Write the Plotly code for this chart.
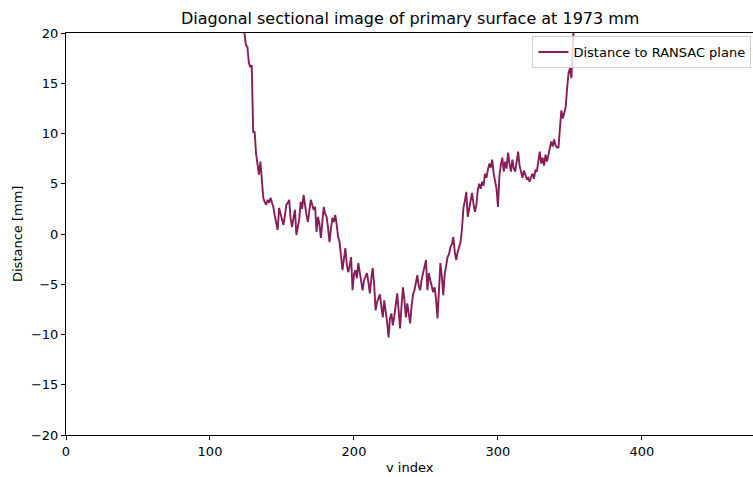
import plotly.graph_objects as go

v_start = 123
distance_mm = [
    21.0, 20.0, 18.8, 18.6, 17.0, 16.6, 16.8, 10.1, 10.2, 8.0,
    6.9, 5.9, 7.2, 5.5, 3.6, 3.2, 2.9, 3.4, 3.1, 3.6,
    3.2, 2.7, 1.8, 1.2, 0.4, 2.6, 2.0, 1.7, 0.9, 1.8,
    2.9, 3.1, 3.4, 1.5, 0.7, 1.6, 2.4, -0.1, 0.6, 1.5,
    3.2, 2.5, 3.9, 2.8, 1.9, 1.2, 2.2, 3.4, 2.9, 2.4,
    2.7, 0.2, 1.7, 1.0, -0.4, 1.2, 2.7, 2.0, 1.7, 0.6,
    -0.8, 0.5, 1.6, 1.2, 1.9, 0.9, -0.3, -0.8, -2.0, -3.6,
    -2.5, -1.4, -3.0, -3.8, -3.2, -2.3, -5.6, -4.0, -3.6, -4.4,
    -2.9, -3.8, -4.5, -5.6, -4.6, -4.2, -3.9, -4.8, -5.9, -4.5,
    -3.4, -5.0, -7.6, -6.8, -6.3, -6.0, -7.2, -8.3, -6.6, -7.5,
    -8.8, -10.3, -8.4, -7.9, -9.1, -8.2, -7.0, -5.9, -7.6, -9.4,
    -7.2, -5.3, -6.5, -8.3, -6.9, -7.8, -8.9, -7.2, -6.0, -5.6,
    -5.0, -4.1, -5.2, -5.6, -4.5, -3.8, -3.1, -2.6, -5.6, -3.9,
    -4.6, -5.2, -5.8, -5.3, -6.5, -8.4, -5.0, -2.9, -4.2, -6.1,
    -4.0, -3.0, -2.3, -2.0, -1.3, -1.0, -0.3, -1.8, -2.6, -1.8,
    -1.3, -0.8, 0.5, 2.6, 3.3, 4.2, 1.7, 2.5, 3.2, 4.1,
    3.0, 2.2, 2.9, 4.4, 5.0, 4.5, 5.2, 4.8, 6.0, 5.6,
    6.4, 7.0, 6.6, 7.4, 6.0, 5.2, 4.5, 2.7, 5.8, 6.9,
    7.6, 6.2, 7.2, 6.5, 8.1, 7.0, 6.2, 7.4, 6.5, 6.2,
    7.0, 8.2, 6.8, 6.0, 5.6, 6.3, 5.8, 5.5, 5.6, 5.2,
    5.7, 6.0, 5.5, 6.4, 6.2, 7.3, 8.2, 7.0, 7.6, 6.8,
    7.9, 7.2, 8.0, 8.6, 9.2, 8.7, 9.4, 8.8, 8.6, 8.6,
    10.8, 12.3, 11.5, 12.0, 12.6, 14.5, 16.0, 16.5, 15.5, 19.0,
    21.5,
]
v_index = list(range(v_start, v_start + len(distance_mm)))

x_ticks = [0, 100, 200, 300, 400]
y_ticks = [-20, -15, -10, -5, 0, 5, 10, 15, 20]

title_text = "Diagonal sectional image of primary surface at 1973 mm"
series_name = "Distance to RANSAC plane"
line_color = "#861e5a"
font_family = "DejaVu Sans"

fig = go.Figure()
fig.add_trace(go.Scatter(
    x=v_index, y=distance_mm, mode="lines", name=series_name,
    line=dict(color=line_color, width=1.9),
))

W, H = 753, 477
ml, mt, mb, mr = 66, 33, 42, 0

fig.update_layout(
    width=W, height=H,
    margin=dict(l=ml, r=mr, t=mt, b=mb, autoexpand=False),
    paper_bgcolor="white", plot_bgcolor="white",
    font=dict(family=font_family, size=13, color="black"),
    showlegend=True,
    legend=dict(
        x=0.679, y=0.9925, xanchor="left", yanchor="top",
        bgcolor="rgba(255,255,255,0.8)", bordercolor="#d0d0d0", borderwidth=1,
        font=dict(family=font_family, size=13, color="black"),
        itemwidth=30, tracegroupgap=0,
    ),
    xaxis=dict(
        range=[0, 477.8 * 687 / 688], tickvals=x_ticks, ticks="outside", ticklen=4,
        tickcolor="black", showgrid=False, zeroline=False,
        showline=True, linecolor="black", linewidth=1, mirror=True,
        tickfont=dict(size=13),
    ),
    yaxis=dict(
        range=[-20, 20], tickvals=y_ticks, ticks="outside", ticklen=4,
        tickcolor="black", showgrid=False, zeroline=False,
        showline=True, linecolor="black", linewidth=1, mirror=False,
        tickfont=dict(size=13),
    ),
    annotations=[
        dict(text=title_text, xref="paper", yref="paper", x=0.5, y=1,
             yshift=15, showarrow=False, xanchor="center", yanchor="middle",
             font=dict(size=16, family=font_family)),
        dict(text="v index", xref="paper", yref="paper", x=0.5, y=0,
             yshift=-32, showarrow=False, xanchor="center", yanchor="middle",
             font=dict(size=13, family=font_family)),
        dict(text="Distance [mm]", xref="paper", yref="paper", x=0, y=0.5,
             xshift=-49, showarrow=False, xanchor="center", yanchor="middle",
             textangle=-90, font=dict(size=13, family=font_family)),
    ],
)

# remove the browser's default body margin so the figure fills the window
fig.write_html(
    "out.html",
    config={"displayModeBar": False},
    post_script="document.body.style.margin='0px';",
)
